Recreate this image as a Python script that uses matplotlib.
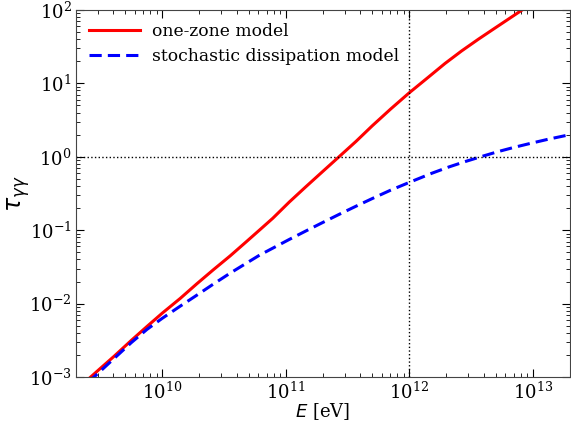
import matplotlib
matplotlib.use("Agg")
import matplotlib.pyplot as plt
import numpy as np

# values (log10 of energy in eV, log10 of optical depth)
log10_E_onezone = [9.40, 9.50, 9.608, 9.75, 9.877, 10.0, 10.145, 10.28, 10.413, 10.55, 10.681, 10.80,
                   10.895, 11.03, 11.164, 11.30, 11.432, 11.57, 11.70, 11.85, 12.0, 12.155, 12.29,
                   12.424, 12.56, 12.693, 12.80, 12.907, 13.0]
log10_tau_onezone = [-3.03, -2.88, -2.72, -2.50, -2.31, -2.13, -1.93, -1.73, -1.54, -1.35, -1.157, -0.98,
                     -0.838, -0.615, -0.407, -0.20, 0.0, 0.21, 0.42, 0.65, 0.87, 1.083, 1.27,
                     1.44, 1.60, 1.75, 1.87, 1.99, 2.09]
log10_E_stoch = [9.40, 9.447, 9.608, 9.75, 9.877, 10.0, 10.145, 10.28, 10.413, 10.55, 10.681, 10.788,
                 10.895, 11.03, 11.164, 11.30, 11.432, 11.57, 11.70, 11.85, 12.0, 12.183, 12.32,
                 12.451, 12.59, 12.72, 12.85, 12.987, 13.13, 13.30]
log10_tau_stoch = [-3.07, -3.0, -2.75, -2.53, -2.35, -2.20, -2.035, -1.885, -1.735, -1.585, -1.45, -1.34,
                   -1.245, -1.125, -1.01, -0.895, -0.785, -0.673, -0.57, -0.455, -0.35, -0.225, -0.14,
                   -0.067, 0.005, 0.07, 0.128, 0.184, 0.24, 0.30]
labels = ["one-zone model", "stochastic dissipation model"]

plt.rcParams['font.family'] = ['DejaVu Serif']
plt.rcParams['mathtext.fontset'] = 'custom'
plt.rcParams['mathtext.rm'] = 'DejaVu Serif'
plt.rcParams['mathtext.it'] = 'DejaVu Sans:italic'
plt.rcParams['mathtext.bf'] = 'DejaVu Sans:bold'
plt.rcParams['mathtext.sf'] = 'DejaVu Sans'

fig = plt.figure(figsize=(5.71, 4.28), dpi=100)
ax = fig.add_axes([0.133, 0.119, 0.865, 0.858])

E1 = 10.0 ** np.array(log10_E_onezone)
T1 = 10.0 ** np.array(log10_tau_onezone)
E2 = 10.0 ** np.array(log10_E_stoch)
T2 = 10.0 ** np.array(log10_tau_stoch)

ax.plot(E1, T1, color='red', lw=2.2, label=labels[0])
ax.plot(E2, T2, color='blue', lw=2.2, ls=(0, (4, 2)), label=labels[1])
ax.axvline(1e12, color='black', ls=':', lw=1)
ax.axhline(1.0, color='black', ls=':', lw=1)

ax.set_xscale('log')
ax.set_yscale('log')
ax.set_xlim(2e9, 2e13)
ax.set_ylim(1e-3, 1e2)
ax.set_xlabel(r'$E$ [eV]', fontsize=13, math_fontfamily='dejavusans')
ax.set_ylabel(r'$\tau_{\gamma\gamma}$', fontsize=17, math_fontfamily='dejavusans')
ax.xaxis.set_label_coords(0.5, -0.066)
ax.yaxis.set_label_coords(-0.088, 0.5)
ax.tick_params(which='both', direction='in', top=True, right=True, labelsize=13)
ax.tick_params(which='major', length=6, pad=3)
ax.tick_params(which='minor', length=3)
for s in ax.spines.values():
    s.set_color('#444444')
ax.legend(loc='upper left', frameon=False, fontsize=12.3, handlelength=3.0,
          handletextpad=0.7, borderaxespad=0.35)

fig.savefig('out.png', dpi=100)
